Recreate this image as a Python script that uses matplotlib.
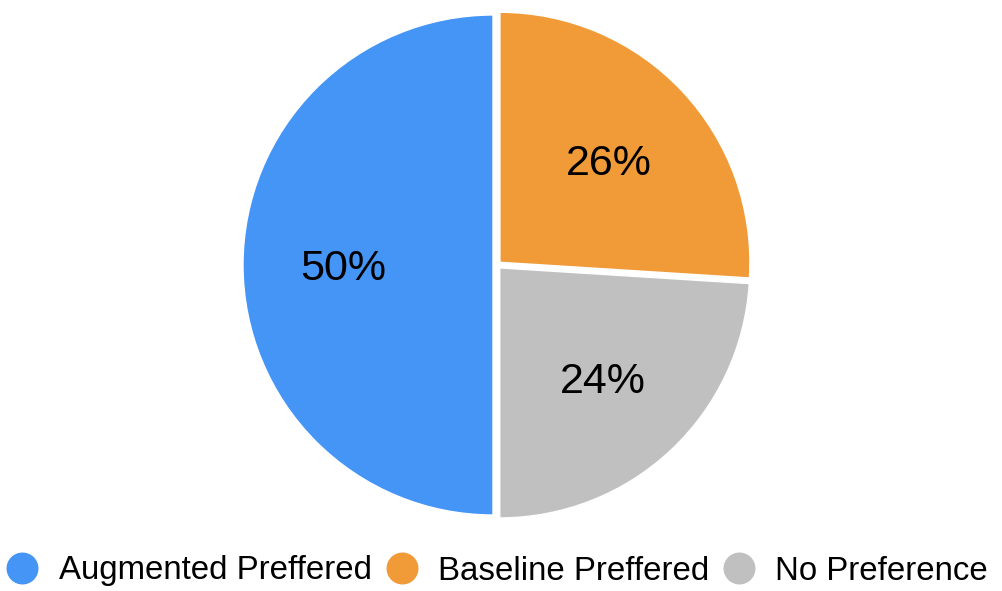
import matplotlib
matplotlib.use("Agg")
import matplotlib.pyplot as plt
from matplotlib.lines import Line2D

# Survey result shares
categories = ["Augmented Preffered", "Baseline Preffered", "No Preference"]
shares = [50, 26, 24]
colors = ["#4495F6", "#F09B38", "#C0C0C0"]

plt.rcParams["font.family"] = ["Liberation Sans", "DejaVu Sans"]

fig = plt.figure(figsize=(10.03, 5.91), dpi=100)
ax = fig.add_axes([222 / 1003, 51 / 591, 550 / 1003, 550 / 591])

wedges, texts, autotexts = ax.pie(
    shares,
    colors=colors,
    startangle=-90,
    counterclock=False,
    explode=[0.016] * len(shares),
    autopct=lambda p: f"{p:.0f}%",
    pctdistance=0.6,
    wedgeprops=dict(edgecolor="white", linewidth=1),
    textprops=dict(fontsize=31, color="black"),
)
for t in autotexts:
    t.set_verticalalignment("center_baseline")

ax.set_xlim(-1.1, 1.1)
ax.set_ylim(-1.1, 1.1)
ax.set_aspect("equal")
ax.axis("off")

handles = [Line2D([0], [0], marker="o", linestyle="none", markersize=22,
                  markerfacecolor=c, markeredgecolor=c) for c in colors]
fig.legend(handles, categories, loc="center", bbox_to_anchor=(497 / 1003, 20 / 591),
           ncol=3, frameon=False, fontsize=23.8, handlelength=1.0,
           handletextpad=0.6, columnspacing=0.4, borderpad=0, borderaxespad=0)

fig.savefig("out.png", dpi=100)
